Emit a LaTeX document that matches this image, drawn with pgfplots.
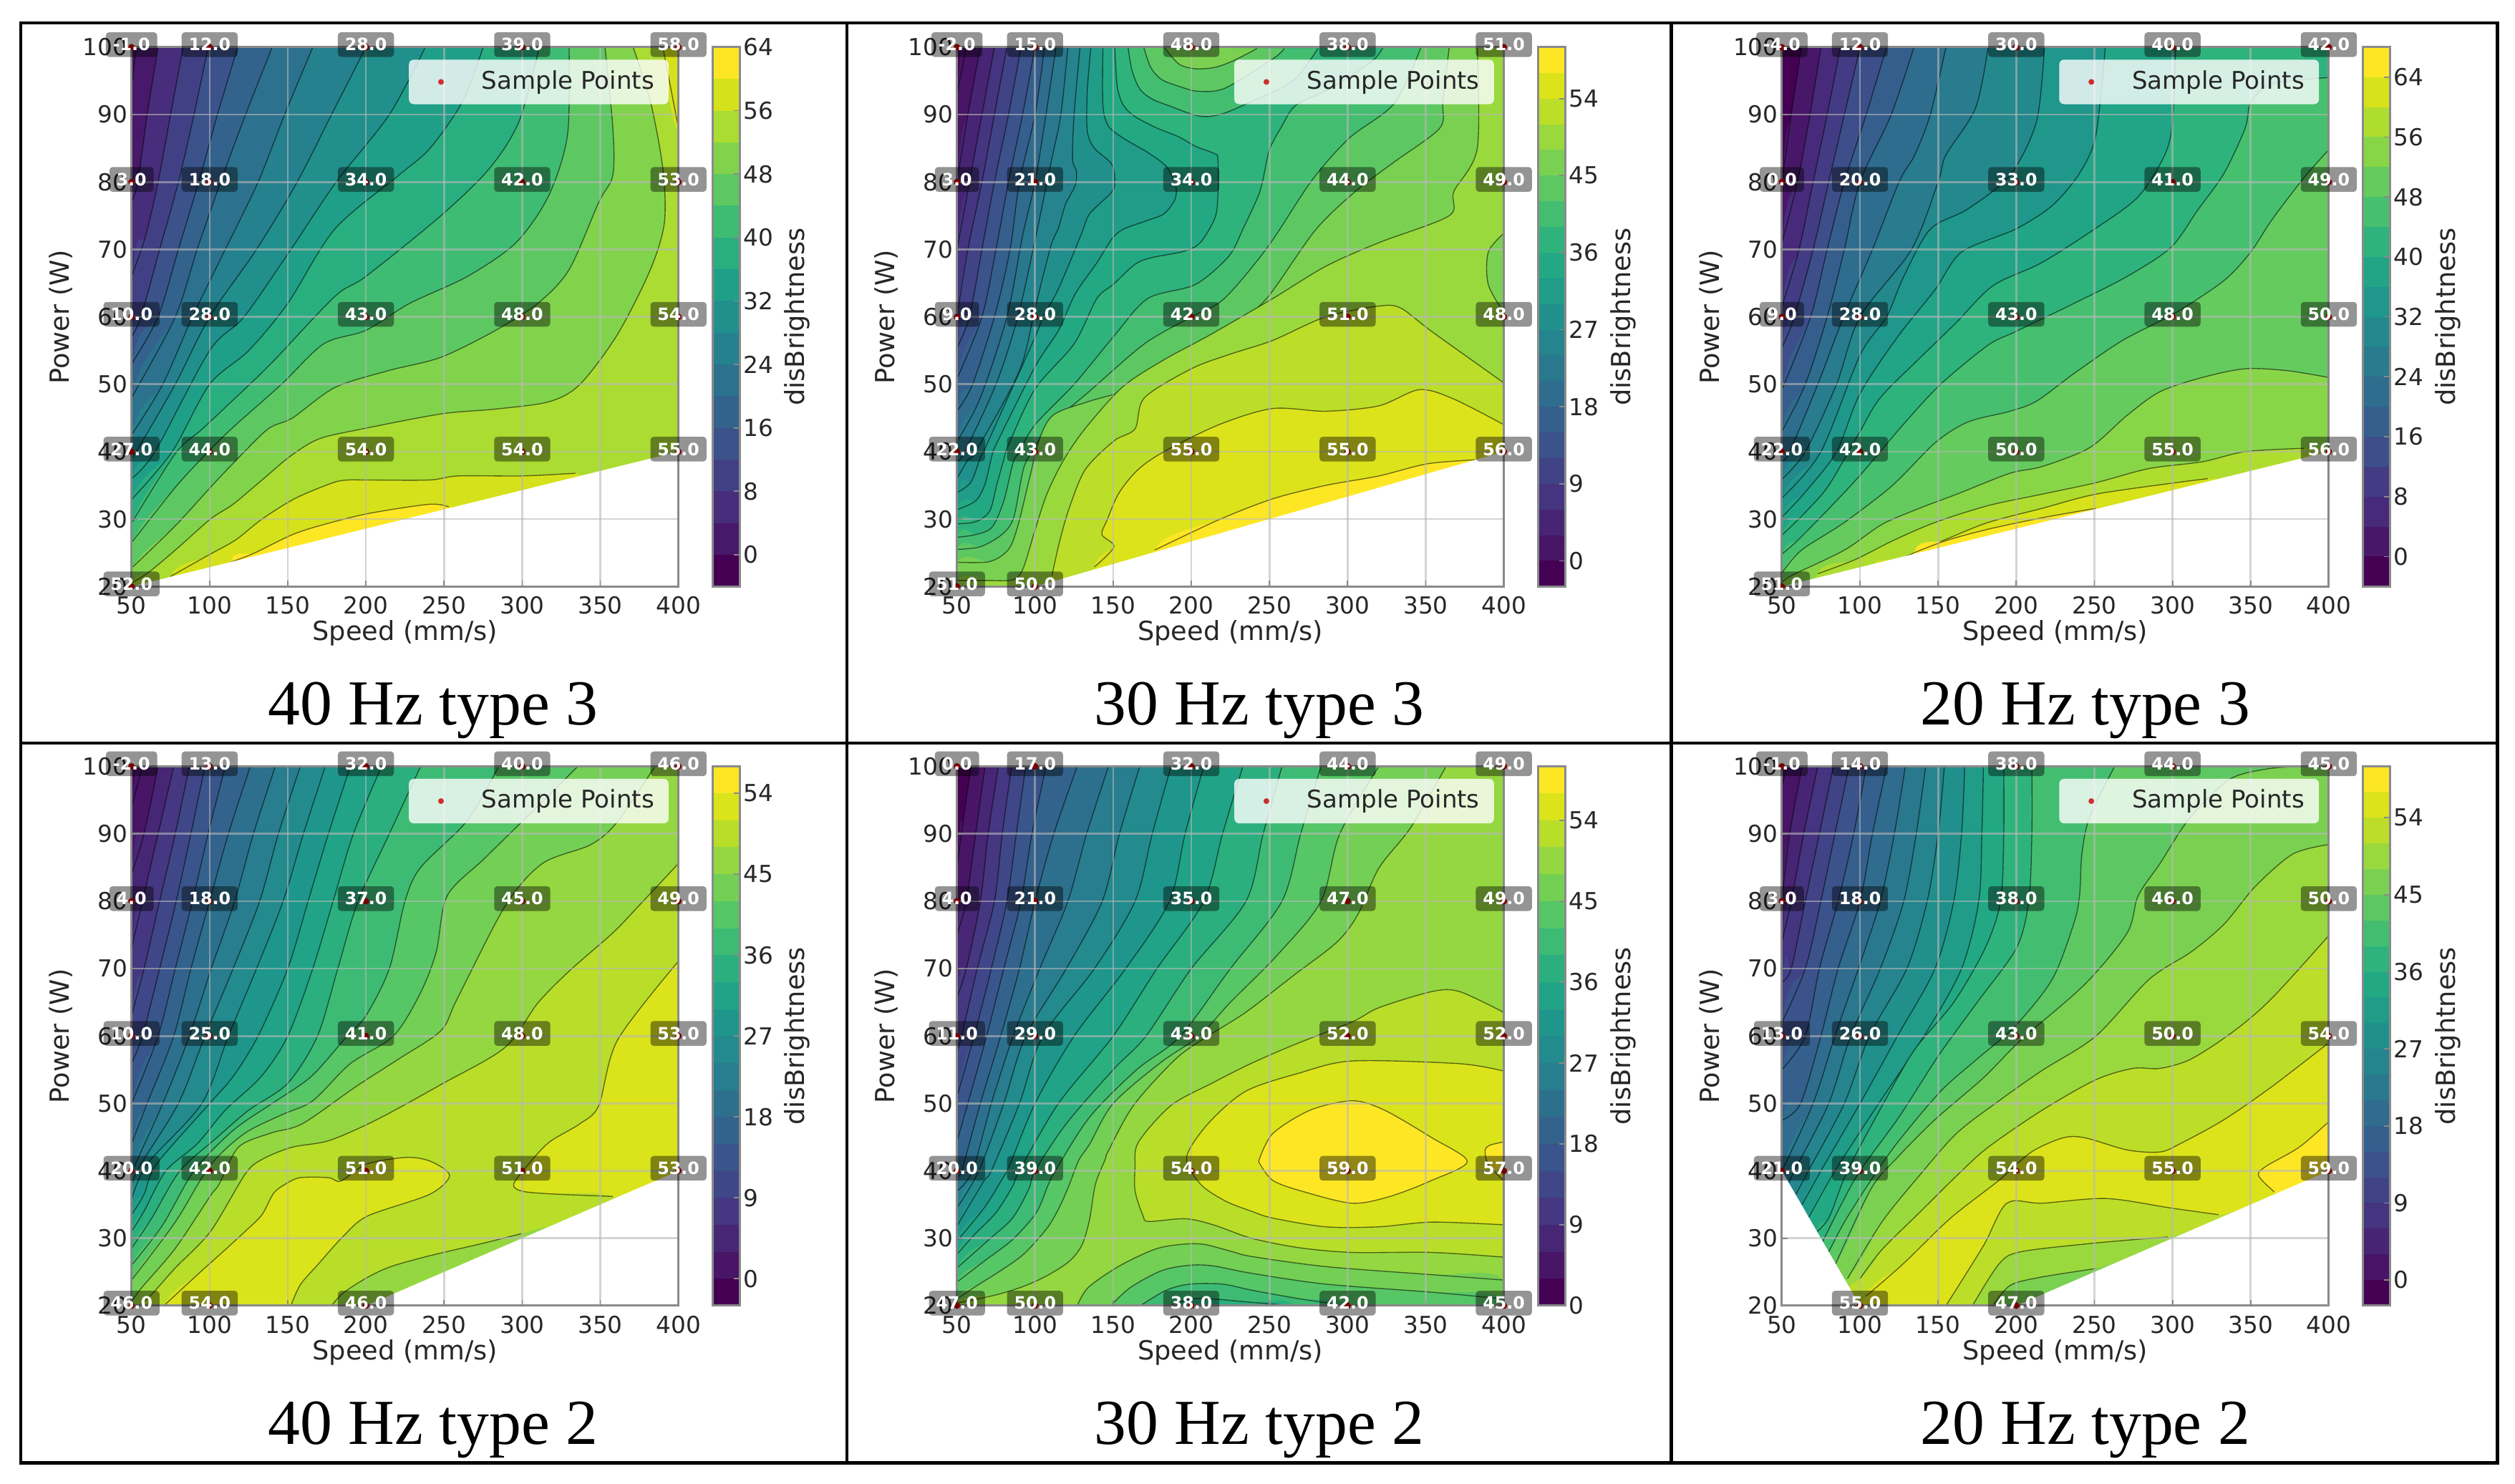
\documentclass[border=0pt]{standalone}
\usepackage{pgfplots}
\pgfplotsset{compat=1.18}
\usepackage{fontspec}
\setmainfont{DejaVu Sans}
\newfontfamily\capfont{Liberation Serif}
\definecolor{gridc}{HTML}{B8B8B8}
\definecolor{spine}{HTML}{8A8A8A}
\definecolor{ptred}{HTML}{CC0000}
\pgfplotsset{colormap/viridis,colormap name=viridis}
\newcommand\txt{\fontsize{7.3}{8.5}\selectfont}
\newcommand\lab{\fontsize{8.2}{9.5}\selectfont}
\pgfplotsset{
  base/.style={scale only axis,height=168.15pt,enlargelimits=false,
    /pgf/number format/assume math mode=true,
    tick label style={font=\txt,text=black!85,inner sep=1pt},
    label style={font=\lab,text=black!85},
    major tick length=1.8pt,tick style={spine,line width=.4pt},
    axis line style={spine,line width=.7pt}},
  main/.style 2 args={base,at={(#1,#2)},anchor=south west,width=170.5pt,
    xmin=50,xmax=400,ymin=20,ymax=100,axis on top,
    xtick={50,100,...,400},ytick={20,30,...,100},
    tick pos=left,grid=major,
    grid style={gridc,opacity=.6,line width=.6pt},
    xticklabel style={yshift=-2pt},
    xlabel={Speed (mm/s)},ylabel={Power (W)},
    xlabel style={at={(axis description cs:.5,0)},anchor=center,yshift=-14.5pt},
    ylabel style={at={(axis description cs:0,.5)},anchor=center,yshift=22pt}},
  over/.style 2 args={at={(#1,#2)},anchor=south west,scale only axis,
    width=170.5pt,height=168.15pt,enlargelimits=false,
    xmin=50,xmax=400,ymin=20,ymax=100,hide axis,clip=false,
    legend image code/.code={\path[draw=none] (0,0) -- (18.2pt,0);\fill[ptred,draw=none] (7.5pt,0) circle (.9pt);},
    legend style={at={(axis description cs:.506,.978)},anchor=north west,
      fill=white,fill opacity=.8,text opacity=1,draw=none,rounded corners=1.5pt,
      font=\fontsize{7.6}{8.5}\selectfont,text=black!85,inner xsep=2.5pt,inner ysep=1.3pt}},
  cbar/.style n args={4}{base,at={(#1,#2)},anchor=south west,width=8.4pt,
    xmin=0,xmax=1,ymin=#3,ymax=#4,xtick=\empty,axis on top,
    ytick pos=right,yticklabel pos=right,ylabel={disBrightness},
    ylabel style={at={(axis description cs:1,.5)},anchor=center,yshift=-18pt}},
  ctr/.style={black,opacity=.55,line width=.3pt},
  sample/.style={only marks,mark=*,mark size=.8pt,ptred,mark options={draw=ptred,fill=ptred},
    nodes near coords,point meta=explicit symbolic,
    every node near coord/.style={anchor=center,yshift=.8pt,font=\fontsize{5.3}{6}\bfseries,
      text=white,fill=black,fill opacity=.42,text opacity=1,rounded corners=1pt,
      inner xsep=2.2pt,inner ysep=0pt,minimum height=7.7pt}},
}
% colours of the discrete bands: one per level
\newcommand\setbands[3]{%
  \pgfmathtruncatemacro\last{#3-1}%
  \foreach \i in {0,...,\last}{%
    \pgfmathtruncatemacro\lv{#1+\i*#2}%
    \pgfmathtruncatemacro\pm{round(1000/\last*\i)}%
    \pgfplotscolormapdefinemappedcolor{\pm}%
    \xglobal\colorlet{L\lv}{mapped color}}%
}
% region above a level: contour line, then closing points outside the frame
\newcommand\band[3]{%
  \addplot[fill=L#1,draw=none,smooth,tension=.5] coordinates {#2 #3} --cycle;
  \addplot[ctr,smooth,tension=.5] coordinates {#2};}
\newcommand\tl[2]{\band{#1}{#2}{(30,10)(420,10)(420,110)}}
\newcommand\base[1]{\addplot[fill=L#1,draw=none] coordinates {(50,20)(400,20)(400,100)(50,100)} --cycle;}
\newcommand\mask[1]{\addplot[fill=white,draw=none] coordinates {#1} --cycle;}
\newcommand\bars[3]{%
  \pgfmathtruncatemacro\last{#3-1}%
  \pgfplotsforeachungrouped \i in {0,...,\last}{%
    \pgfmathtruncatemacro\lv{#1+\i*#2}%
    \pgfmathtruncatemacro\lw{#1+(\i+1)*#2}%
    \edef\tmp{\noexpand\addplot[fill=L\lv,draw=none] coordinates {(0,\lv)(1,\lv)(1,\lw)(0,\lw)} --cycle;}%
    \tmp}}
\newcommand\samples[1]{%
  \addplot[sample] coordinates {#1};
  \addlegendentry{Sample Points}}
\begin{document}
\begin{tikzpicture}
\path[use as bounding box] (0,0) rectangle (784pt,462.6pt);

% ---- 40 Hz type 3
\setbands{-4}{4}{17}
\begin{axis}[main={41pt}{279.75pt}]
\base{-4}
\tl{0}{(53,100)(50,94)}
\tl{4}{(67,100)(60,90)(54,80)(50,77)}
\tl{8}{(83,100)(75,90)(67,80)(59,72)(50,66)}
\tl{12}{(99,100)(90,90)(80,80)(68,70)(56,60)(50,57)}
\tl{16}{(118,100)(105,90)(93,80)(80,70)(67,60)(50,53)}
\tl{20}{(140,100)(123,90)(107,80)(92,70)(78,60)(50,48)}
\tl{24}{(166,100)(148,90)(131,80)(110,70)(89,60)(70,50)(50,42.5)}
\tl{28}{(200,100)(178,90)(156,80)(130,70)(100,60)(78,50)(53,40)(50,39.2)}
\tl{32}{(238,100)(215,90)(181,80)(152,70)(122,60)(100,55)(65,40)(50,36)}
\tl{36}{(275,100)(262,92)(241,85)(221,81)(180,73)(150,62)(125,55)(100,50)(76,40)(50,32.9)}
\tl{40}{(311,100)(298,89)(279,82)(248,75)(200,66)(180,63)(139,53)(112,47)(95,43.3)(78,39.7)(50,29.4)}
\tl{44}{(330,100)(329,87)(317,78)(296,71)(265,66)(228,62)(200,58)(173,56)(146,50)(113.5,43.3)(95,39)(78,34.7)(50,26.5)}
\tl{48}{(353,100)(358,88)(358,81)(349,77)(330,67)(310,62)(283,58)(248,54)(214,52)(180,49.5)(153,45)(137,43.3)(113.5,37.9)(100.5,34.7)(78,29)(50.8,22.9)}
\tl{52}{(371,100)(382,92)(390,82)(391,74)(382,67)(361,57.4)(337,50)(317,47.4)(282,46.3)(248,45.6)(196,43.3)(170,41.9)(152,39.4)(133.5,35.8)(115,32.2)(100.5,30)(78,25.4)(61.5,22.2)(50,20.5)}
\band{56}{(390,100)(400,88)}{(420,110)}
\band{56}{(334,36.8)(300,36.4)(259,36.4)(240.6,35.8)(201,35.8)(188.6,35.8)(179,35.4)(155,33.1)(133.5,30)(116.6,26.9)(98,24.5)(75,21.5)}{(75,10)(420,10)(420,30)}
\band{60}{(253,31.8)(240.6,32.2)(201,30.8)(170,29)(152,27.6)(129,25)(113.5,23.6)}{(113,10)(420,10)(420,30)}
\mask{(50,20)(400,40)(400,20)}
\end{axis}
\begin{axis}[cbar={222.15pt}{279.75pt}{-4}{64},ytick={0,8,...,64}]
\bars{-4}{4}{17}
\end{axis}
\begin{axis}[over={41pt}{279.75pt}]
\samples{(50,100)[-1.0](100,100)[12.0](200,100)[28.0](300,100)[39.0](400,100)[58.0]
(50,80)[3.0](100,80)[18.0](200,80)[34.0](300,80)[42.0](400,80)[53.0]
(50,60)[10.0](100,60)[28.0](200,60)[43.0](300,60)[48.0](400,60)[54.0]
(50,40)[27.0](100,40)[44.0](200,40)[54.0](300,40)[54.0](400,40)[55.0]
(50,20)[52.0]}
\end{axis}

% ---- 30 Hz type 3
\setbands{-3}{3}{21}
\begin{axis}[main={298.3pt}{279.75pt}]
\base{-3}
\tl{0}{(56,100)(50,93)}
\tl{3}{(65,100)(57,90)(50,80)}
\tl{6}{(74,100)(66,90)(58,80)(50,70)}
\tl{9}{(82,100)(74,90)(66,80)(57,70)(50,60)}
\tl{12}{(91,100)(83,90)(74,80)(66,70)(58,60)(50,55.4)}
\tl{15}{(100,100)(92,90)(83,80)(75,70)(66,60)(50,50.8)}
\tl{18}{(106,100)(100,90)(90,80)(84,70)(74,60)(60,50)(50,46)}
\tl{21}{(113.4,100)(107,90)(100,80)(92,72)(82,60)(65,48)(50,41.5)}
\tl{24}{(121,100)(116.5,90)(110.3,83)(100,71.4)(89,60)(75,50)(55,40)(50,38.6)}
\tl{27}{(128.8,100)(125,90)(124,83.4)(126.5,81.6)(125.7,79.5)(119.5,76.7)(115,73.2)(110,70.4)(100,61.3)(90,52)(62,40)(57,38.8)(50,36)}
\tl{30}{(135.7,100)(133.4,93.5)(133.4,87.6)(138,85)(149,82.7)(151,80.2)(149,78.5)(135,75.3)(130,72.5)(122.6,68.3)(113.4,63.4)(105,60)(100,57)(69,41)(65,39.1)(59,35.5)(50,33.9)}
\tl{33}{(143.4,100)(143.4,91.4)(147,88.3)(156.5,86.5)(172,84.4)(184,82.3)(190,79.5)(189.5,77.4)(182.6,75.3)(172,74.3)(156.5,73)(149,71.5)(139.5,68)(125.7,63.4)(115,58)(100,52.6)(76,41.5)(72.5,39.5)(68,35.2)(62,32.7)(50,31.4)}
\tl{36}{(151,100)(152.6,94.2)(156.5,91.4)(164,89.7)(178,88)(192,86.7)(202.6,85.3)(215,84.2)(217,83.4)(217,77.8)(215,74.6)(205.7,71)(195,69.7)(175,68.8)(164,67.8)(150,64.8)(139.5,62.7)(125,56)(100,49.3)(83,41)(80,38.8)(75.6,35.2)(71,31.2)(62,29.6)(50,29.3)}
\tl{39}{(322.6,100)(316,98)(290,94)(267,91.4)(258,88.3)(250,84.8)(245.7,80.2)(242.6,77.8)(233.4,73.2)(224,69)(202.6,64.8)(172,62.7)(150,57)(125,50)(100,44)(90,40)(86,38.4)(80,32.7)(72.5,28.8)(62,27.7)(50,27.3)}
\band{39}{(159.5,100)(162,96.6)(167,93.8)(175,92.3)(187,91.2)(201,90)(210,89.7)(221,90.2)(238,91.9)(265,95)(281,99.8)}{}
\tl{42}{(347,100)(330,91.7)(301,86.5)(277,80.2)(249,70.4)(221,62.7)(200,60)(170,56)(135,49)(110,44)(98,40)(92.4,37.3)(86.3,30.2)(78.7,27.7)(65,25.9)(50,25.5)}
\band{42}{(169.5,100)(174,97)(181,95.2)(192,94.2)(202.6,93.5)(215,93.5)(225.7,94.4)(253,98.4)(259.5,99.8)}{}
\tl{45}{(365,100)(361,92)(359,88)(330,83)(306,78.8)(279.5,72.9)(248.8,62.9)(225,58)(200,55)(170,50)(135,47.5)(112,45.5)(103,42)(96.6,36.2)(89,29)(83,25.5)(71,23.7)(50,23.6)}
\band{45}{(182.6,100)(192,97.5)(202.6,96.8)(215,97)(227,98)(242,99.8)}{}
\tl{48}{(383,100)(383,85)(368,78.6)(365,75)(320,71)(286,67.5)(252,62.7)(211,57.2)(183,53.7)(156,49.6)(132,43.4)(118.4,38.8)(107.7,33.8)(100,28.4)(92.4,22.7)(86,21)(70,20.9)(50,20.9)}
\band{45}{(400,72.4)(390,69.6)(390,64.8)(400,60.6)}{}
\band{51}{(400,50.2)(354,57.8)(334,61.3)(320,61.6)(286,60)(252,56.5)(224,54.4)(200,52.3)(170,48)(164,43.4)(150.5,41.6)(132,37.3)(121.4,31.3)(115.3,26.3)(110.8,21.6)}{(110,10)(420,10)}
\band{54}{(400,44)(368,47.8)(346,49.2)(320,46.8)(286,46)(252,46.4)(217.6,44)(182.5,40)(165.7,37.3)(153.5,33.8)(146,29.8)(142.8,27.7)(150.5,25.9)(138,22.9)}{(138,10)(420,10)}
\band{57}{(382,38.8)(351,38.2)(320,36.4)(286,35)(252,33)(217.6,29.9)(176.5,25.4)}{(176,10)(420,10)(420,38)}
\mask{(100,20)(400,40)(400,20)}
\end{axis}
\begin{axis}[cbar={479.5pt}{279.75pt}{-3}{60},ytick={0,9,...,54}]
\bars{-3}{3}{21}
\end{axis}
\begin{axis}[over={298.3pt}{279.75pt}]
\samples{(50,100)[-2.0](100,100)[15.0](200,100)[48.0](300,100)[38.0](400,100)[51.0]
(50,80)[3.0](100,80)[21.0](200,80)[34.0](300,80)[44.0](400,80)[49.0]
(50,60)[9.0](100,60)[28.0](200,60)[42.0](300,60)[51.0](400,60)[48.0]
(50,40)[22.0](100,40)[43.0](200,40)[55.0](300,40)[55.0](400,40)[56.0]
(50,20)[51.0](100,20)[50.0]}
\end{axis}

% ---- 20 Hz type 3
\setbands{-4}{4}{18}
\begin{axis}[main={555.45pt}{279.75pt}]
\base{-4}
\tl{0}{(62.5,100)(56,90)(50,80)}
\tl{4}{(75,100)(68,90)(60,80)(50,71)}
\tl{8}{(87.5,100)(79,90)(70,80)(61,70)(50,61.5)}
\tl{12}{(100,100)(90,90)(80,80)(70,70)(58,60)(50,55.4)}
\tl{16}{(117,100)(104,90)(90,80)(79,70)(68.4,60)(50,49.2)}
\tl{20}{(134.5,100)(120,90)(100,80)(90,70)(79,60)(65,50)(50,43)}
\tl{24}{(155,100)(145,90)(135,84)(125,80)(108,70)(89.5,60)(73,50)(55,40)(50,38.6)}
\tl{28}{(182,100)(174,91)(155,84)(150,80)(133,70)(100,60)(85,50)(65,40)(50,35.9)}
\tl{32}{(218,100)(213,89)(196,81)(169,76)(145,73)(128,66)(117,60)(100,54.3)(75,40)(50,33.1)}
\tl{36}{(257,100)(251,87)(240.5,81.3)(223,76.5)(199.5,73)(165,69.6)(148,64)(124,57)(100,48.6)(85,40)(65,34)(50,30.3)}
\tl{40}{(302,100)(300,89)(295,84)(278,77.8)(250,73)(216,68)(185,64.6)(161,59)(137,53.6)(113,48)(100,43)(80,35)(65,31)(50,27.6)}
\band{44}{(400,95.5)(363,94.5)(350,91.7)(346.5,88)(333,81.3)(316,75.8)(299,70.3)(271,66)(237,62)(199.5,57.8)(182,55.8)(151.6,50)(127.6,44)(97,35.7)(62.6,27.4)(50,24.8)}{(30,10)(420,10)}
\band{48}{(400,84.8)(384,80.6)(363.6,74.4)(350,69.6)(333,65.4)(302,60.6)(268,56.5)(237,51.6)(213,47.5)(196,46)(169,44.4)(148,41.3)(120.8,35)(90,29.5)(62.6,25.4)(50,22)}{(30,10)(420,10)}
\band{52}{(400,51)(374,52)(346.5,52.3)(319,51)(292,48.9)(271,45.4)(247,40.6)(216.6,37.8)(196,36.8)(162,33.7)(138,31.6)(114,29.2)(90,25.4)(56,21.6)(50,20.5)}{(30,10)(420,10)}
\band{56}{(384,40.5)(346.5,40)(319,38.5)(285,37.5)(251,35.4)(216.6,33.7)(182,32)(148,29.5)(121,26.8)(97,24)(73,21.9)}{(73,10)(420,10)(420,40)}
\band{60}{(322.6,36)(302,35.4)(251,33.7)(216.6,31.6)(182,29.5)(155,27)(127.6,24.3)(107,22.6)}{(107,10)(420,10)(420,36)}
\band{64}{(251,31.6)(216.6,30.2)(182,28.5)(155,26.8)(134.5,25)}{(134,10)(420,10)(420,31.6)}
\mask{(50,20)(400,40)(400,20)}
\end{axis}
\begin{axis}[cbar={736.6pt}{279.75pt}{-4}{68},ytick={0,8,...,64}]
\bars{-4}{4}{18}
\end{axis}
\begin{axis}[over={555.45pt}{279.75pt}]
\samples{(50,100)[-4.0](100,100)[12.0](200,100)[30.0](300,100)[40.0](400,100)[42.0]
(50,80)[0.0](100,80)[20.0](200,80)[33.0](300,80)[41.0](400,80)[49.0]
(50,60)[9.0](100,60)[28.0](200,60)[43.0](300,60)[48.0](400,60)[50.0]
(50,40)[22.0](100,40)[42.0](200,40)[50.0](300,40)[55.0](400,40)[56.0]
(50,20)[51.0]}
\end{axis}

% ---- 40 Hz type 2
\setbands{-3}{3}{20}
\begin{axis}[main={41pt}{55.55pt}]
\base{-3}
\tl{0}{(57,100)(50,94)}
\tl{3}{(67,100)(58,90)(50,84)}
\tl{6}{(77,100)(67,90)(57,80)(50,73)}
\tl{9}{(87,100)(78,90)(68,80)(58,70)(50,63)}
\tl{12}{(97,100)(88,90)(78.6,80)(68,70)(57,60)(50,56)}
\tl{15}{(110,100)(99,90)(89,80)(78,70)(67,60)(50,50)}
\tl{18}{(126,100)(112,90)(100,80)(88,70)(77,60)(60,50)(50,44)}
\tl{21}{(142,100)(128,90)(116,80)(101,70)(87,60)(70,50)(50,39.8)}
\tl{24}{(158,100)(144,90)(132,80)(115,70)(97,60)(80,50)(56,41)(50,38)}
\tl{27}{(174,100)(160,90)(147,80)(130,70)(112,60)(95,50)(60,41)(50,35.7)}
\tl{30}{(190,100)(176,90)(163,80)(150,70)(131,60)(115,54)(100,50)(66,41)(58,36.5)(50,33.5)}
\tl{33}{(210,100)(192,90)(179,80)(166,70)(150,60)(133,54)(110,49)(92,44)(72,40)(58,34)(50,31)}
\tl{36}{(235,100)(215,90)(195,80)(182,70)(169,60)(150,53)(125,49)(105,45)(81,40)(63,33)(50,28.5)}
\tl{39}{(285,100)(265,92)(235,85)(225,80)(215,70)(200,63)(188,60)(165,54)(140,50)(115,46)(90,40)(70,32)(50,26)}
\tl{42}{(335.6,100)(303,92.5)(275.7,86.3)(252,80.8)(245,72.5)(234.7,66.3)(217.6,60)(190,55.9)(166,50.4)(146,48.3)(122,45.5)(100,40.7)(78,32.4)(50,23.8)}
\tl{45}{(385,100)(361,91.8)(344,88.4)(313,85.6)(289.4,79.4)(258.6,65.6)(248,60.8)(221,56.6)(193.6,52.5)(159.4,47)(139,45.6)(118.4,43.5)(106,38)(100.5,36.3)(78,28.5)(57,22.8)(50,20.6)}
\band{48}{(400,85.6)(375,79.4)(358,75.3)(330.4,69.7)(310,64.9)(289,58.3)(248,52.8)(207,47.6)(176.5,44.5)(152.6,43.5)(133.5,41.7)(122.7,39.5)(100.5,31)(78,25.6)(63,21.7)(55,20)}{(55,10)(420,10)}
\band{45}{(178,20)(185.5,21.9)(201,24.2)(216,25.8)(240.6,27.4)(275.7,29.3)(299.7,30.7)}{(320,31.3)(340,25)(340,10)(178,10)}
\band{51}{(400,71.1)(361,59.4)(349,49.7)(337,47)(317,44.2)(303,40.7)(294.5,38)(299.7,37)(317,36.6)(358,36.2)}{(400,30)}
\band{51}{(152,20)(158,23.1)(170,26.3)(185.5,30.3)(201,33.3)(240.6,36.5)(253.5,39.3)(241.5,41.4)(226,42)(200.5,41)(184,38.5)(176,39)(158,39)(149,38.1)(141,36.7)(133.5,33.5)(124,31.3)(109,28.1)(93.6,24.9)(70.7,20)}{(70,10)(152,10)}
\mask{(200,20)(400,40)(400,20)}
\end{axis}
\begin{axis}[cbar={222.15pt}{55.55pt}{-3}{57},ytick={0,9,...,54}]
\bars{-3}{3}{20}
\end{axis}
\begin{axis}[over={41pt}{55.55pt}]
\samples{(50,100)[-2.0](100,100)[13.0](200,100)[32.0](300,100)[40.0](400,100)[46.0]
(50,80)[4.0](100,80)[18.0](200,80)[37.0](300,80)[45.0](400,80)[49.0]
(50,60)[10.0](100,60)[25.0](200,60)[41.0](300,60)[48.0](400,60)[53.0]
(50,40)[20.0](100,40)[42.0](200,40)[51.0](300,40)[51.0](400,40)[53.0]
(50,20)[46.0](100,20)[54.0](200,20)[46.0]}
\end{axis}

% ---- 30 Hz type 2
\setbands{0}{3}{20}
\begin{axis}[main={298.3pt}{55.55pt}]
\base{0}
\tl{3}{(59,100)(54,92)(50,85)}
\tl{6}{(68,100)(62,90)(56,80)(50,75)}
\tl{9}{(76.5,100)(70,90)(65,80)(56,70)(50,65.7)}
\tl{12}{(85,100)(79,90)(74,80)(63,70)(53,60)(50,57.8)}
\tl{15}{(94,100)(88,90)(82,80)(72,70)(61,60)(50,51)}
\tl{18}{(107,100)(98,90)(91,80)(80,70)(69,60)(57,50)(50,44.4)}
\tl{21}{(127,100)(112,90)(100,80)(90,70)(78,60)(65,50)(53,40)(50,39.4)}
\tl{24}{(147,100)(133,90)(121,80)(103,70)(86,60)(72,50)(60,40)(50,37)}
\tl{27}{(167,100)(154,90)(143,80)(120,70)(94,60)(80,50)(64,40)(50,34.5)}
\tl{30}{(187,100)(175,90)(164,80)(138,70)(105,60)(90,50)(72,40)(67,38.4)(50,31.8)}
\tl{33}{(208,100)(196,90)(186,80)(158,70)(125,60)(100,50)(84,41)(78,38.4)(67.4,34.5)(50,29.6)}
\tl{36}{(233,100)(220,90)(208,80)(178,70)(150,60)(115,50)(90,40)(85.6,37.7)(75,33.8)(61,30.5)(50,27.6)}
\tl{39}{(258,100)(246,90)(235,80)(200,70)(171,60)(150,55)(120,47)(100,40)(96,37.3)(85.6,33)(70.5,29.8)(50,25.6)}
\tl{42}{(283,100)(270,90)(258,80)(225,70)(193,60)(165,55)(135,48)(113,40)(108,37.7)(100.8,33.8)(85.6,29.8)(67.4,26.6)(50,23.5)}
\tl{45}{(320,100)(295,90)(283,80)(255,72)(225,65)(205,60)(180,56)(150,50)(135,44)(128,41.6)(122,38)(116,34.8)(108,31.6)(93,27.7)(78,25.2)(63,23)(50,21)}
\tl{48}{(363,100)(340.6,91)(320,84.9)(306.5,78)(293,73.9)(265.5,69)(234.7,63.5)(210.7,60)(190,56.6)(163,49.7)(147,43)(144.7,41.6)(138.6,38)(134.8,32.7)(130,29)(122,26.6)(108,24.5)(93,22.9)(75,21.6)(50,20.4)}
\band{45}{(127,20)(134,22.7)(154,25.9)(177,28.4)(194,29.1)(208,29.1)(226.5,28)(238.6,27.3)(286,25.8)(354,24.6)(400,23.8)}{(420,10)(127,10)}
\band{42}{(148.5,20)(161,22.7)(181,25.2)(199,26)(214,25.9)(238.6,24.8)(286,23.2)(354,22)(400,21)}{(420,10)(148,10)}
\band{39}{(167.4,20)(184,22.3)(199,23.2)(220,23.2)(238.6,22.3)(270,21)(300,20)}{(300,10)(167,10)}
\band{36}{(185,20)(200,21)(214,21)(238.6,20.5)(265,20)}{(265,10)(185,10)}
\band{51}{(400,63.5)(371.5,66.6)(354,66.6)(320,64.2)(303,62.1)(265.7,58.7)(238,55.9)(214,53.1)(187,49.7)(166,44.2)(164,40.5)(164,37)(169,33.4)(172.7,32.5)(196,32.9)(214,32)(238.6,30)(269,28.6)(303,27.9)(354,27.9)(400,27.2)}{}
\band{54}{(400,54.8)(371.5,55.9)(303,56.3)(269,54.5)(234.7,51.8)(210.7,47)(197,42)(206,38)(222,35.5)(238.6,34)(252,33)(286,31.7)(320,31.7)(354,32.4)(400,32)}{}
\band{57}{(243,41.4)(252,45.5)(276,49)(303,50.4)(323.6,49)(354,44.9)(376.6,41.4)(354,38.6)(327,36.2)(303,35.2)(272,36.9)(252,38.6)(243,41.4)}{}
\band{57}{(400,44.3)(391,43.8)(388,43)(390,41)(400,38.5)}{}
\end{axis}
\begin{axis}[cbar={479.5pt}{55.55pt}{0}{60},ytick={0,9,...,54}]
\bars{0}{3}{20}
\end{axis}
\begin{axis}[over={298.3pt}{55.55pt}]
\samples{(50,100)[0.0](100,100)[17.0](200,100)[32.0](300,100)[44.0](400,100)[49.0]
(50,80)[4.0](100,80)[21.0](200,80)[35.0](300,80)[47.0](400,80)[49.0]
(50,60)[11.0](100,60)[29.0](200,60)[43.0](300,60)[52.0](400,60)[52.0]
(50,40)[20.0](100,40)[39.0](200,40)[54.0](300,40)[59.0](400,40)[57.0]
(50,20)[47.0](100,20)[50.0](200,20)[38.0](300,20)[42.0](400,20)[45.0]}
\end{axis}

% ---- 20 Hz type 2
\setbands{-3}{3}{21}
\begin{axis}[main={555.45pt}{55.55pt}]
\base{-3}
\tl{0}{(53,100)(50,97)}
\tl{3}{(63,100)(55,90)(50,80)}
\tl{6}{(73,100)(64,90)(56,80)(50,74)}
\tl{9}{(83,100)(74,90)(65,80)(56,70)(50,68)}
\tl{12}{(93,100)(84,90)(75,80)(65,70)(50,62)}
\tl{15}{(104,100)(96,90)(86,80)(74,70)(65,60)(50,55)}
\tl{18}{(117,100)(108,90)(100,80)(86,70)(75,60)(62,50)(50,47.5)}
\tl{21}{(129,100)(122,90)(113,80)(99,70)(84,60)(70,50)(50,40)}
\tl{24}{(142,100)(136,90)(128,80)(113,70)(94,60)(80,50)(58,40)(54.5,38.2)}
\tl{27}{(154,100)(150,90)(143,80)(130,70)(106,60)(90,50)(67,40)(59,36.5)}
\tl{30}{(167,100)(165,90)(160,80)(148,70)(124,60)(100,50)(75,40)(63,35)}
\tl{33}{(179,100)(178,90)(176,80)(165,70)(141,60)(112,50)(84,40)(67,33)}
\tl{36}{(192,100)(192,90)(190,80)(180,73)(160,65)(135,58)(115,50)(92,40)(80,33)(70,30.5)}
\tl{39}{(210,100)(210,90)(208,80)(200,73)(175,65)(150,57)(125,48)(100,40)(88,35)(75,29)}
\tl{42}{(263,100)(247,92.5)(242,87)(240.5,80.8)(236.7,76.6)(223,68.4)(199,61.4)(175,56.6)(151.6,51.8)(124,44.2)(107,38.6)(90,32.4)(79,27.5)}
\tl{45}{(382,100)(360,99.6)(336,98)(310.6,92.2)(292,85.6)(278,80.8)(271,75.3)(244,67.7)(203,59.4)(179,53.8)(148,47.6)(124,42)(107,37.3)(84,26)}
\band{48}{(400,88.4)(377,87)(353,82.2)(333,76.6)(312,72.5)(285,68.4)(251,60)(216.6,54.9)(189,50.4)(162,45.6)(138,39.3)(114,32.4)(92,24)}{(30,10)(420,10)}
\band{51}{(400,74.9)(363.6,65.6)(339.7,60.8)(312,56.6)(292,55.2)(274.7,55.2)(250.8,53.5)(216.6,49)(182,43.5)(162,39.3)(138,33.8)(114,28.3)(100,24)}{(30,10)(420,10)}
\band{54}{(400,59)(363.6,52.5)(333,47.6)(305.5,44.1)(292,42.8)(271,43.1)(244,44.9)(230,44.9)(209.7,42.8)(189,38.6)(158,33)(127.6,26.2)(103.7,21.4)}{(103,10)(420,10)}
\band{51}{(155,20)(179,28.9)(194,35.2)(216.6,35.2)(257.6,35.9)(298.6,34.5)(329.4,33.5)}{(345,33.8)(370,28)(420,10)(155,10)}
\band{48}{(172,20)(189,26.2)(203,28)(250.8,29.3)(297,30.2)}{(315,30.8)(335,25)(335,10)(172,10)}
\band{45}{(185,20)(196,23)(215,24.2)(250.8,25.5)}{(270,26.3)(285,22)(285,10)(185,10)}
\band{57}{(400,47.3)(381,43.5)(360,40.7)(355,39.3)(365,36.9)}{(400,30)}
\mask{(200,20)(400,40)(400,20)}
\mask{(50,20)(50,40)(100,20)}
\end{axis}
\begin{axis}[cbar={736.6pt}{55.55pt}{-3}{60},ytick={0,9,...,54}]
\bars{-3}{3}{21}
\end{axis}
\begin{axis}[over={555.45pt}{55.55pt}]
\samples{(50,100)[-1.0](100,100)[14.0](200,100)[38.0](300,100)[44.0](400,100)[45.0]
(50,80)[3.0](100,80)[18.0](200,80)[38.0](300,80)[46.0](400,80)[50.0]
(50,60)[13.0](100,60)[26.0](200,60)[43.0](300,60)[50.0](400,60)[54.0]
(50,40)[21.0](100,40)[39.0](200,40)[54.0](300,40)[55.0](400,40)[59.0]
(100,20)[55.0](200,20)[47.0]}
\end{axis}

% ---- table frame and captions
\draw[line width=1pt] (6.5pt,6.5pt) rectangle (778.5pt,455.5pt);
\draw[line width=1pt] (6.5pt,231pt) -- (778.5pt,231pt);
\draw[line width=1pt] (264pt,6.5pt) -- (264pt,455.5pt);
\draw[line width=1pt] (521pt,6.5pt) -- (521pt,455.5pt);
\foreach \x/\hz in {135pt/40,392.5pt/30,650pt/20}{
  \node[font=\capfont\fontsize{20}{22}\selectfont] at (\x,241.2pt) {\hz{} Hz type 3};
  \node[font=\capfont\fontsize{20}{22}\selectfont] at (\x,16.8pt) {\hz{} Hz type 2};
}
\end{tikzpicture}
\end{document}
